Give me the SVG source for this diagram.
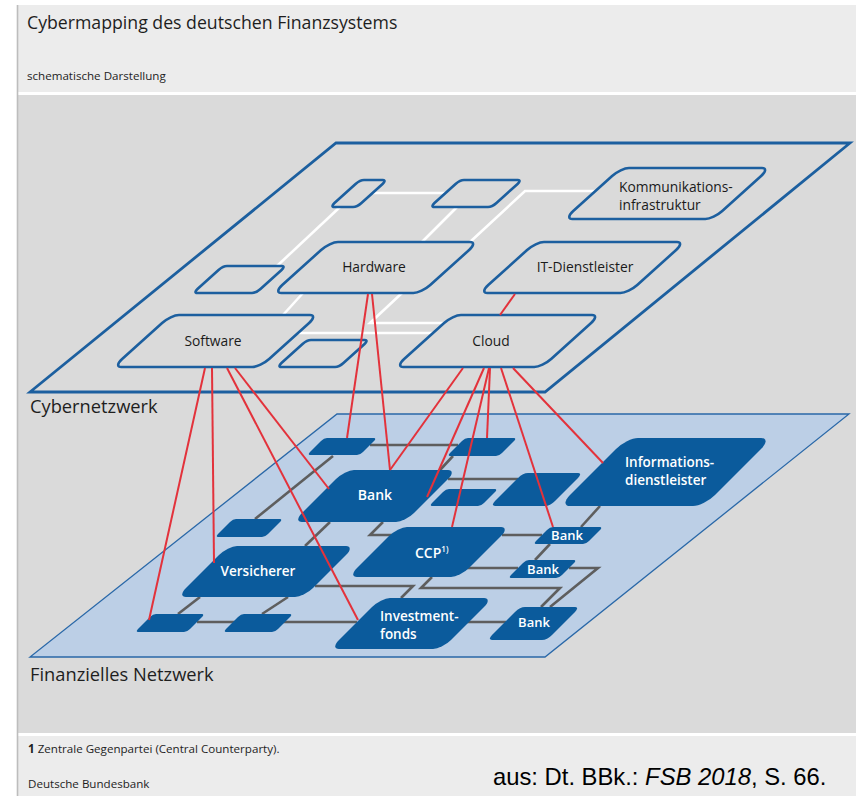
<svg xmlns="http://www.w3.org/2000/svg" width="856" height="796" viewBox="0 0 856 796">
  <defs>
    <style>
      .sans { font-family: "Open Sans", "Noto Sans", "DejaVu Sans", sans-serif; }
      .title { font-size: 17.7px; fill: #1e1e1e; }
      .small { font-size: 11.6px; fill: #1e1e1e; }
      .layer { font-size: 18.3px; fill: #1e1e1e; }
      .cyber rect { fill: #dadada; stroke: #1c5f9f; stroke-width: 2.6; vector-effect: non-scaling-stroke; }
      .cyber text { font-size: 13.8px; fill: #1a1a1a; }
      .fin rect { fill: #0b5b9c; stroke: none; }
      .fin text { font-size: 13.5px; fill: #ffffff; font-weight: 600; }
      .fin text.sm { font-size: 13px; }
      .white line, .white polyline { stroke: #ffffff; stroke-width: 2.6; fill: none; }
      .grey line, .grey polyline { stroke: #5e5e5e; stroke-width: 2.6; fill: none; }
      .red line { stroke: #e3323b; stroke-width: 2; }
    </style>
  </defs>

  <!-- page frame -->
  <rect x="0" y="0" width="856" height="796" fill="#ffffff"/>
  <rect x="18" y="5" width="838" height="87" fill="#ececec"/>
  <rect x="18" y="95" width="838" height="638" fill="#dadada"/>
  <rect x="18" y="736" width="838" height="60" fill="#ececec"/>
  <line x1="17.5" y1="5" x2="17.5" y2="796" stroke="#bdbdbd" stroke-width="1.6"/>

  <text class="sans title" x="27" y="29">Cybermapping des deutschen Finanzsystems</text>
  <text class="sans small" x="27" y="80">schematische Darstellung</text>

  <!-- financial network plane -->
  <polygon id="plane-fin" points="337,414 849,414 545,657 30,657" fill="#bccfe6" stroke="#2a68a8" stroke-width="1.3"/>

  <!-- financial network links -->
  <g id="fin-links" class="grey">
    <line x1="370" y1="445" x2="458" y2="445"/>
    <line x1="333" y1="456" x2="255" y2="519"/>
    <line x1="453" y1="456" x2="440" y2="470"/>
    <line x1="330" y1="522" x2="305" y2="546"/>
    <line x1="200" y1="597" x2="178" y2="614"/>
    <line x1="288" y1="597" x2="262" y2="614"/>
    <line x1="197" y1="622" x2="357" y2="622"/>
    <polyline points="315,586 413,586 401,598"/>
    <polyline points="432,577 421,588 560,588 541,607"/>
    <polyline points="383,522 370,535 392,535"/>
    <line x1="448" y1="479" x2="518" y2="479"/>
    <line x1="502" y1="535" x2="542" y2="535"/>
    <line x1="467" y1="568" x2="518" y2="568"/>
    <polyline points="569,568 598,568 550,607"/>
    <line x1="467" y1="622" x2="506" y2="622"/>
    <line x1="600" y1="506" x2="581" y2="527"/>
    <line x1="550" y1="544" x2="535" y2="560"/>
  </g>

  <!-- financial network nodes -->
  <g class="sans fin">
    <g id="fin-a"><rect transform="translate(0,438) skewX(-45)" x="324" y="0" width="53" height="17" rx="3"/></g>
    <g id="fin-e"><rect transform="translate(0,438) skewX(-45)" x="465" y="0" width="52" height="18" rx="3"/></g>
    <g id="fin-bank"><rect transform="translate(0,470) skewX(-45)" x="345" y="0" width="112" height="52" rx="9"/>
      <text x="375" y="500" text-anchor="middle" style="font-size:14px">Bank</text></g>
    <g id="fin-f"><rect transform="translate(0,489) skewX(-45)" x="446" y="0" width="52" height="17" rx="3"/></g>
    <g id="fin-g"><rect transform="translate(0,473) skewX(-45)" x="523" y="0" width="60" height="33" rx="5"/></g>
    <g id="fin-info"><rect transform="translate(0,438) skewX(-45)" x="627" y="0" width="145" height="68" rx="11"/>
      <text x="625" y="467">Informations-</text>
      <text x="625" y="485">dienstleister</text></g>
    <g id="fin-b"><rect transform="translate(0,519) skewX(-45)" x="233" y="0" width="50" height="18" rx="3"/></g>
    <g id="fin-ccp"><rect transform="translate(0,527) skewX(-45)" x="398" y="0" width="112" height="50" rx="9"/>
      <text x="415" y="558" style="font-size:14px">CCP<tspan dy="-6" style="font-size:8px">1)</tspan></text></g>
    <g id="fin-bank1"><rect transform="translate(0,527) skewX(-45)" x="550" y="0" width="53" height="17" rx="3"/>
      <text class="sm" x="567" y="540" text-anchor="middle">Bank</text></g>
    <g id="fin-vers"><rect transform="translate(0,546) skewX(-45)" x="228" y="0" width="127" height="51" rx="9"/>
      <text x="258" y="576" text-anchor="middle">Versicherer</text></g>
    <g id="fin-bank2"><rect transform="translate(0,560) skewX(-45)" x="526" y="0" width="51" height="18" rx="3"/>
      <text class="sm" x="543" y="574" text-anchor="middle">Bank</text></g>
    <g id="fin-c"><rect transform="translate(0,614) skewX(-45)" x="153" y="0" width="52" height="18" rx="3"/></g>
    <g id="fin-d"><rect transform="translate(0,614) skewX(-45)" x="241" y="0" width="52" height="18" rx="3"/></g>
    <g id="fin-invest"><rect transform="translate(0,598) skewX(-45)" x="381" y="0" width="112" height="51" rx="9"/>
      <text x="380" y="621">Investment-</text>
      <text x="380" y="639">fonds</text></g>
    <g id="fin-bank3"><rect transform="translate(0,607) skewX(-45)" x="520" y="0" width="60" height="33" rx="5"/>
      <text class="sm" x="534" y="627" text-anchor="middle">Bank</text></g>
  </g>

  <!-- cyber network plane -->
  <polygon id="plane-cyber" points="336,143 850,143 545,392 30,392" fill="none" stroke="#1c5f9f" stroke-width="2.8"/>

  <!-- cyber network links -->
  <g id="cyber-links" class="white">
    <line x1="373" y1="193" x2="446" y2="193"/>
    <polyline points="470,242 525,191 595,191"/>
    <line x1="457" y1="207" x2="422" y2="242"/>
    <line x1="340" y1="207" x2="277" y2="266"/>
    <line x1="303" y1="293" x2="283" y2="315"/>
    <polyline points="402,293 370,323 444,323"/>
    <line x1="298" y1="333" x2="433" y2="333"/>
  </g>

  <!-- cyber network nodes -->
  <g class="sans cyber">
    <g id="cy-s1"><rect transform="translate(0,180) skewX(-48)" x="360" y="0" width="27" height="27" rx="4"/></g>
    <g id="cy-s2"><rect transform="translate(0,180) skewX(-48)" x="460" y="0" width="62" height="27" rx="4"/></g>
    <g id="cy-komm"><rect transform="translate(0,168) skewX(-48)" x="621" y="0" width="149" height="51" rx="8"/>
      <text x="619" y="192">Kommunikations-</text>
      <text x="619" y="210">infrastruktur</text></g>
    <g id="cy-s3"><rect transform="translate(0,266) skewX(-48)" x="223" y="0" width="63" height="27" rx="4"/></g>
    <g id="cy-hardware"><rect transform="translate(0,242) skewX(-48)" x="330" y="0" width="148" height="51" rx="8"/>
      <text x="374" y="272" text-anchor="middle">Hardware</text></g>
    <g id="cy-it"><rect transform="translate(0,242) skewX(-48)" x="536" y="0" width="149" height="51" rx="8"/>
      <text x="585" y="272" text-anchor="middle">IT-Dienstleister</text></g>
    <g id="cy-software"><rect transform="translate(0,315) skewX(-48)" x="171" y="0" width="147" height="52" rx="8"/>
      <text x="213" y="346" text-anchor="middle">Software</text></g>
    <g id="cy-s4"><rect transform="translate(0,340) skewX(-48)" x="307" y="0" width="62" height="27" rx="4"/></g>
    <g id="cy-cloud"><rect transform="translate(0,315) skewX(-48)" x="453" y="0" width="147" height="52" rx="8"/>
      <text x="491" y="346" text-anchor="middle">Cloud</text></g>
  </g>

  <!-- dependencies between the two layers -->
  <g id="cross-links" class="red">
    <line x1="205" y1="368" x2="149" y2="620"/>
    <line x1="212" y1="368" x2="214" y2="563"/>
    <line x1="227" y1="368" x2="358" y2="620"/>
    <line x1="235" y1="368" x2="329" y2="489"/>
    <line x1="368" y1="294" x2="347" y2="438"/>
    <line x1="372" y1="294" x2="390" y2="470"/>
    <line x1="515" y1="294" x2="500" y2="315"/>
    <line x1="463" y1="368" x2="390" y2="470"/>
    <line x1="484" y1="368" x2="427" y2="497"/>
    <line x1="489" y1="368" x2="452" y2="527"/>
    <line x1="490" y1="368" x2="487" y2="438"/>
    <line x1="501" y1="368" x2="553" y2="527"/>
    <line x1="513" y1="368" x2="603" y2="463"/>
  </g>

  <text class="sans layer" x="30" y="413">Cybernetzwerk</text>
  <text class="sans layer" x="30" y="681">Finanzielles Netzwerk</text>

  <!-- footer -->
  <text class="sans small" x="28" y="753"><tspan font-weight="700">1</tspan> Zentrale Gegenpartei (Central Counterparty).</text>
  <text class="sans small" x="28" y="788">Deutsche Bundesbank</text>
  <text x="493" y="785" font-family="'Liberation Sans', Arial, sans-serif" font-size="23.8" fill="#000000">aus: Dt. BBk.: <tspan font-style="italic">FSB 2018</tspan>, S. 66.</text>
</svg>
